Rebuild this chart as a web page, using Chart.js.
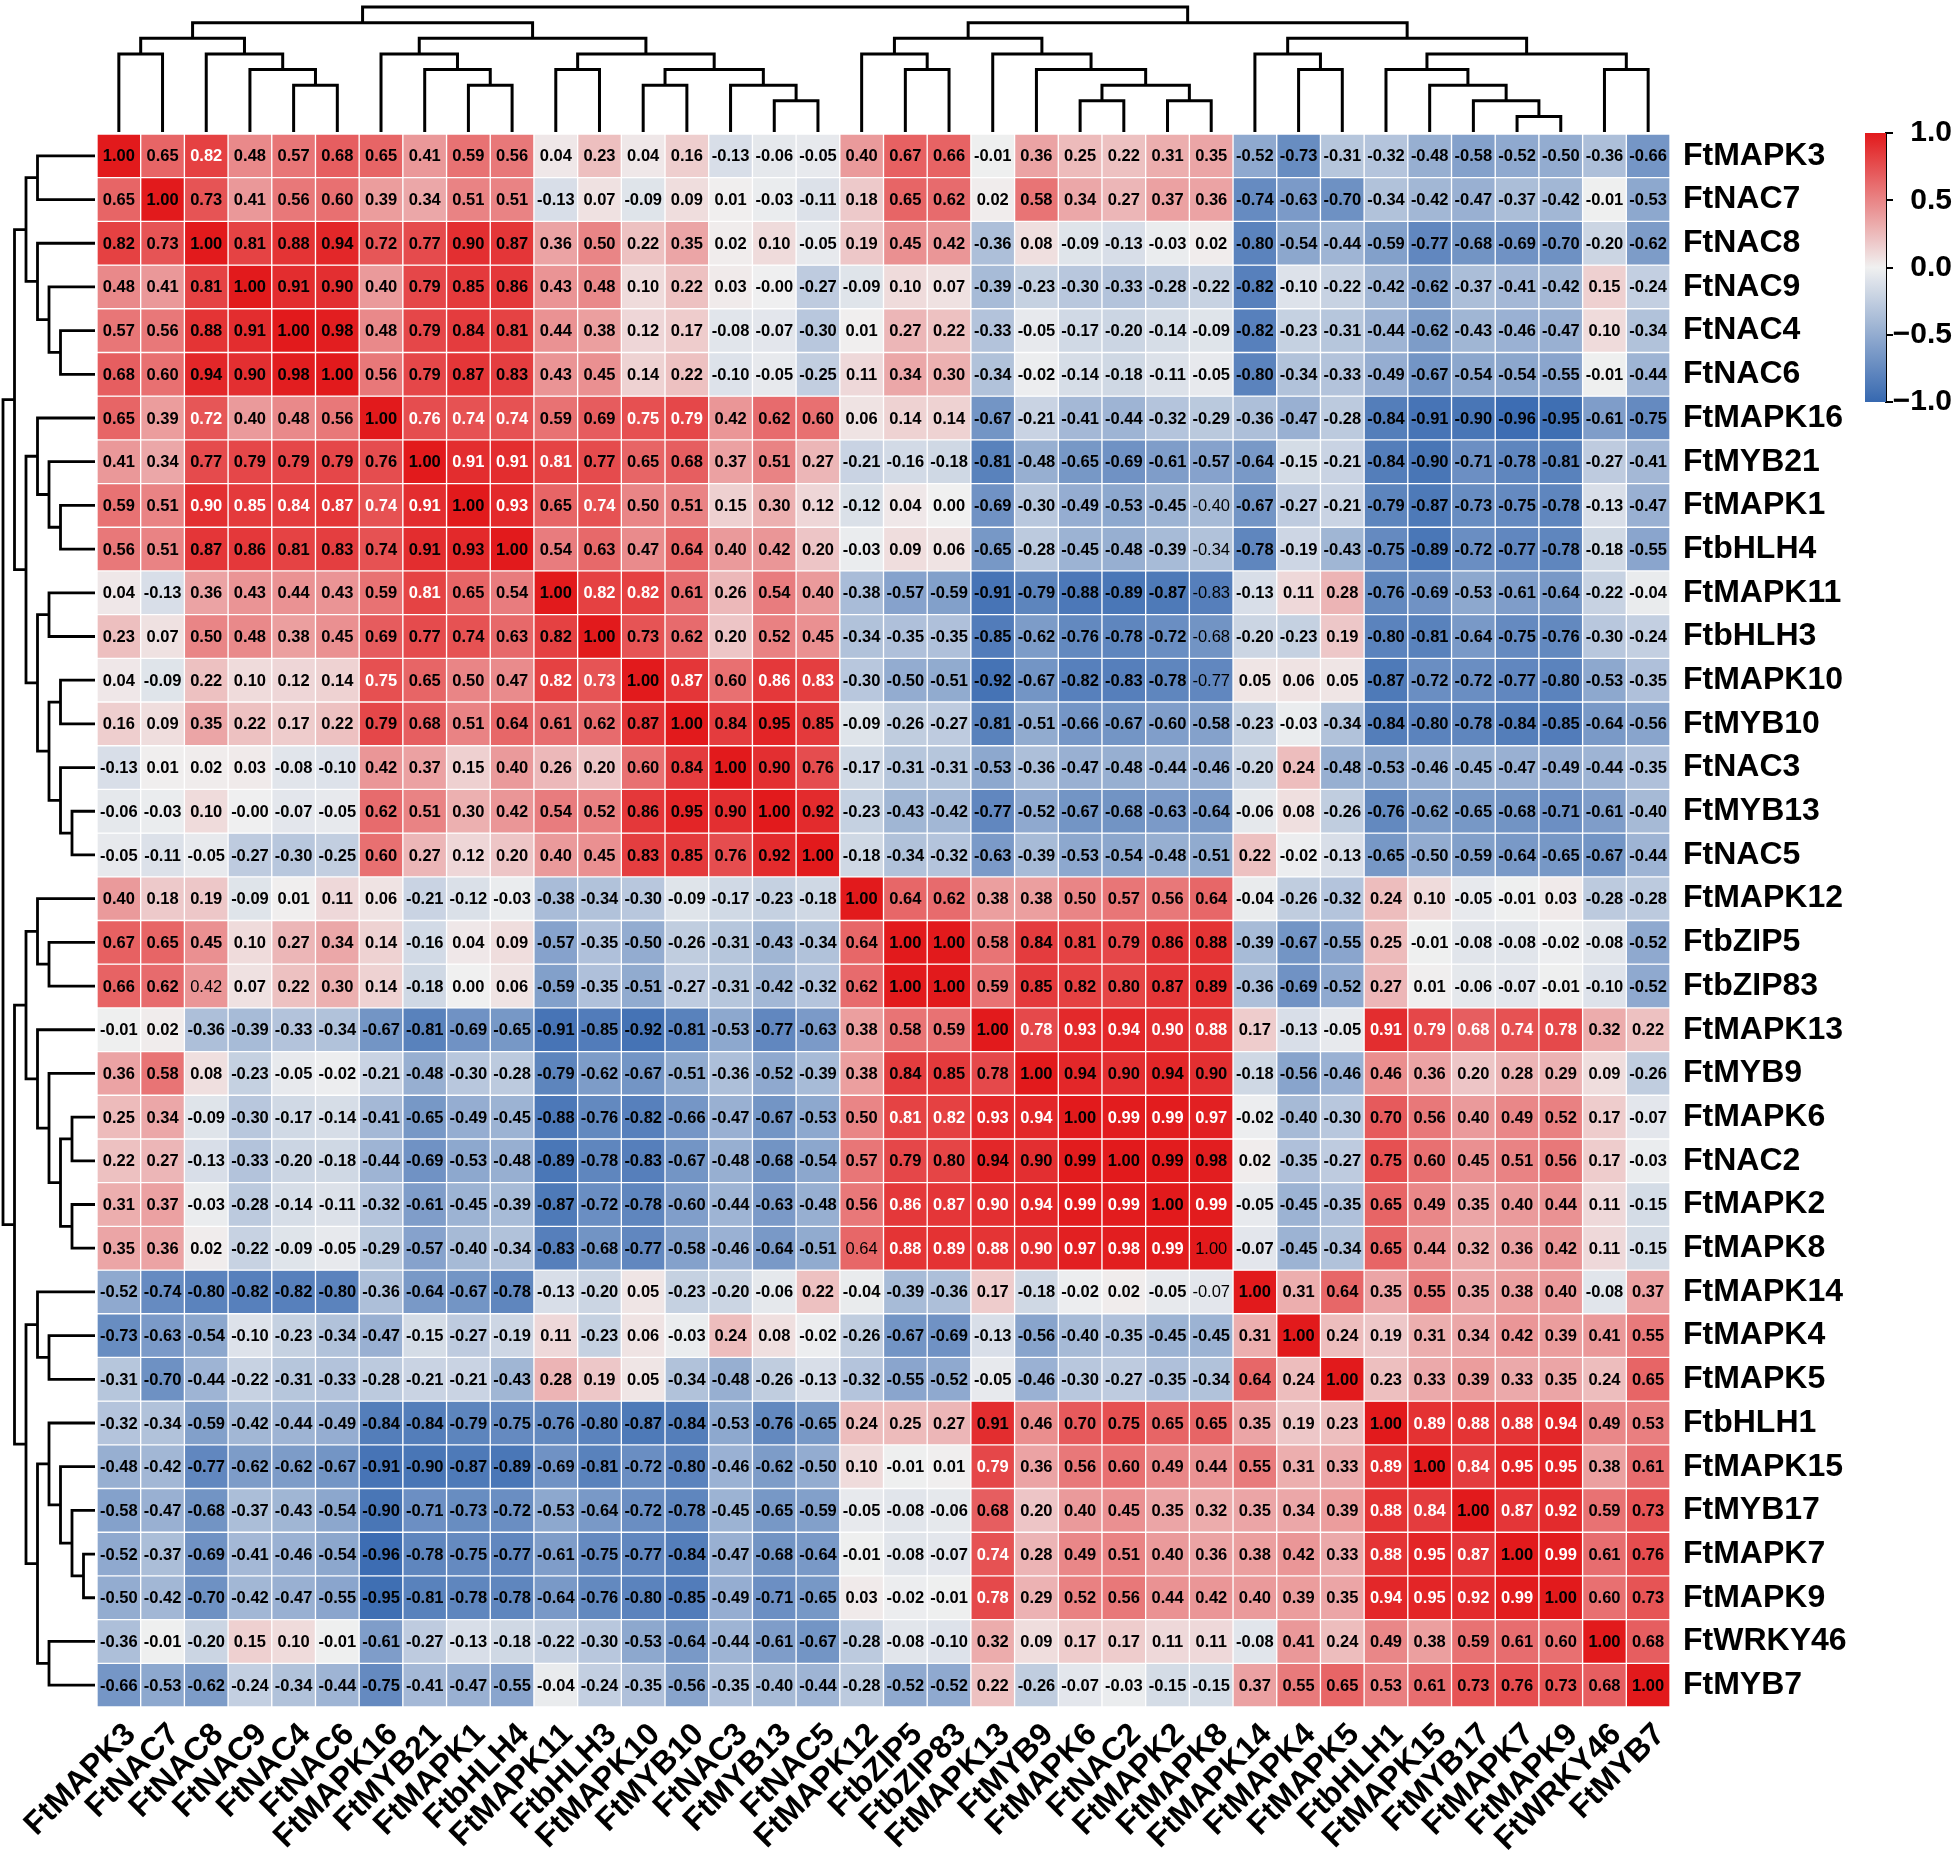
<!DOCTYPE html>
<html><head><meta charset="utf-8">
<script src="https://cdn.jsdelivr.net/npm/chart.js@4.4.1/dist/chart.umd.min.js"></script>
<style>
html,body{margin:0;padding:0;background:#fff;}
#wrap{position:relative;width:1952px;height:1852px;overflow:hidden;background:#fff;}
canvas{position:absolute;display:block;}
</style></head><body>
<div id="wrap">
<canvas id="heat" width="1952" height="1852" style="left:0;top:0;width:1952px;height:1852px"></canvas>
<canvas id="dendTop" width="1573" height="134" style="left:97px;top:0;width:1573px;height:134px"></canvas>
<canvas id="dendLeft" width="97" height="1573" style="left:0;top:134px;width:97px;height:1573px"></canvas>
<canvas id="cbar" width="112" height="340" style="left:1840px;top:100px;width:112px;height:340px"></canvas>
</div>
<script>
// ---------------- data ----------------
const genes = ["FtMAPK3","FtNAC7","FtNAC8","FtNAC9","FtNAC4","FtNAC6","FtMAPK16","FtMYB21","FtMAPK1","FtbHLH4",
  "FtMAPK11","FtbHLH3","FtMAPK10","FtMYB10","FtNAC3","FtMYB13","FtNAC5","FtMAPK12","FtbZIP5","FtbZIP83",
  "FtMAPK13","FtMYB9","FtMAPK6","FtNAC2","FtMAPK2","FtMAPK8","FtMAPK14","FtMAPK4","FtMAPK5","FtbHLH1",
  "FtMAPK15","FtMYB17","FtMAPK7","FtMAPK9","FtWRKY46","FtMYB7"];

const corr = [
 [1.00,0.65,0.82,0.48,0.57,0.68,0.65,0.41,0.59,0.56,0.04,0.23,0.04,0.16,-0.13,-0.06,-0.05,0.40,0.67,0.66,-0.01,0.36,0.25,0.22,0.31,0.35,-0.52,-0.73,-0.31,-0.32,-0.48,-0.58,-0.52,-0.50,-0.36,-0.66],
 [0.65,1.00,0.73,0.41,0.56,0.60,0.39,0.34,0.51,0.51,-0.13,0.07,-0.09,0.09,0.01,-0.03,-0.11,0.18,0.65,0.62,0.02,0.58,0.34,0.27,0.37,0.36,-0.74,-0.63,-0.70,-0.34,-0.42,-0.47,-0.37,-0.42,-0.01,-0.53],
 [0.82,0.73,1.00,0.81,0.88,0.94,0.72,0.77,0.90,0.87,0.36,0.50,0.22,0.35,0.02,0.10,-0.05,0.19,0.45,0.42,-0.36,0.08,-0.09,-0.13,-0.03,0.02,-0.80,-0.54,-0.44,-0.59,-0.77,-0.68,-0.69,-0.70,-0.20,-0.62],
 [0.48,0.41,0.81,1.00,0.91,0.90,0.40,0.79,0.85,0.86,0.43,0.48,0.10,0.22,0.03,-0.004,-0.27,-0.09,0.10,0.07,-0.39,-0.23,-0.30,-0.33,-0.28,-0.22,-0.82,-0.10,-0.22,-0.42,-0.62,-0.37,-0.41,-0.42,0.15,-0.24],
 [0.57,0.56,0.88,0.91,1.00,0.98,0.48,0.79,0.84,0.81,0.44,0.38,0.12,0.17,-0.08,-0.07,-0.30,0.01,0.27,0.22,-0.33,-0.05,-0.17,-0.20,-0.14,-0.09,-0.82,-0.23,-0.31,-0.44,-0.62,-0.43,-0.46,-0.47,0.10,-0.34],
 [0.68,0.60,0.94,0.90,0.98,1.00,0.56,0.79,0.87,0.83,0.43,0.45,0.14,0.22,-0.10,-0.05,-0.25,0.11,0.34,0.30,-0.34,-0.02,-0.14,-0.18,-0.11,-0.05,-0.80,-0.34,-0.33,-0.49,-0.67,-0.54,-0.54,-0.55,-0.01,-0.44],
 [0.65,0.39,0.72,0.40,0.48,0.56,1.00,0.76,0.74,0.74,0.59,0.69,0.75,0.79,0.42,0.62,0.60,0.06,0.14,0.14,-0.67,-0.21,-0.41,-0.44,-0.32,-0.29,-0.36,-0.47,-0.28,-0.84,-0.91,-0.90,-0.96,-0.95,-0.61,-0.75],
 [0.41,0.34,0.77,0.79,0.79,0.79,0.76,1.00,0.91,0.91,0.81,0.77,0.65,0.68,0.37,0.51,0.27,-0.21,-0.16,-0.18,-0.81,-0.48,-0.65,-0.69,-0.61,-0.57,-0.64,-0.15,-0.21,-0.84,-0.90,-0.71,-0.78,-0.81,-0.27,-0.41],
 [0.59,0.51,0.90,0.85,0.84,0.87,0.74,0.91,1.00,0.93,0.65,0.74,0.50,0.51,0.15,0.30,0.12,-0.12,0.04,0.00,-0.69,-0.30,-0.49,-0.53,-0.45,-0.40,-0.67,-0.27,-0.21,-0.79,-0.87,-0.73,-0.75,-0.78,-0.13,-0.47],
 [0.56,0.51,0.87,0.86,0.81,0.83,0.74,0.91,0.93,1.00,0.54,0.63,0.47,0.64,0.40,0.42,0.20,-0.03,0.09,0.06,-0.65,-0.28,-0.45,-0.48,-0.39,-0.34,-0.78,-0.19,-0.43,-0.75,-0.89,-0.72,-0.77,-0.78,-0.18,-0.55],
 [0.04,-0.13,0.36,0.43,0.44,0.43,0.59,0.81,0.65,0.54,1.00,0.82,0.82,0.61,0.26,0.54,0.40,-0.38,-0.57,-0.59,-0.91,-0.79,-0.88,-0.89,-0.87,-0.83,-0.13,0.11,0.28,-0.76,-0.69,-0.53,-0.61,-0.64,-0.22,-0.04],
 [0.23,0.07,0.50,0.48,0.38,0.45,0.69,0.77,0.74,0.63,0.82,1.00,0.73,0.62,0.20,0.52,0.45,-0.34,-0.35,-0.35,-0.85,-0.62,-0.76,-0.78,-0.72,-0.68,-0.20,-0.23,0.19,-0.80,-0.81,-0.64,-0.75,-0.76,-0.30,-0.24],
 [0.04,-0.09,0.22,0.10,0.12,0.14,0.75,0.65,0.50,0.47,0.82,0.73,1.00,0.87,0.60,0.86,0.83,-0.30,-0.50,-0.51,-0.92,-0.67,-0.82,-0.83,-0.78,-0.77,0.05,0.06,0.05,-0.87,-0.72,-0.72,-0.77,-0.80,-0.53,-0.35],
 [0.16,0.09,0.35,0.22,0.17,0.22,0.79,0.68,0.51,0.64,0.61,0.62,0.87,1.00,0.84,0.95,0.85,-0.09,-0.26,-0.27,-0.81,-0.51,-0.66,-0.67,-0.60,-0.58,-0.23,-0.03,-0.34,-0.84,-0.80,-0.78,-0.84,-0.85,-0.64,-0.56],
 [-0.13,0.01,0.02,0.03,-0.08,-0.10,0.42,0.37,0.15,0.40,0.26,0.20,0.60,0.84,1.00,0.90,0.76,-0.17,-0.31,-0.31,-0.53,-0.36,-0.47,-0.48,-0.44,-0.46,-0.20,0.24,-0.48,-0.53,-0.46,-0.45,-0.47,-0.49,-0.44,-0.35],
 [-0.06,-0.03,0.10,-0.004,-0.07,-0.05,0.62,0.51,0.30,0.42,0.54,0.52,0.86,0.95,0.90,1.00,0.92,-0.23,-0.43,-0.42,-0.77,-0.52,-0.67,-0.68,-0.63,-0.64,-0.06,0.08,-0.26,-0.76,-0.62,-0.65,-0.68,-0.71,-0.61,-0.40],
 [-0.05,-0.11,-0.05,-0.27,-0.30,-0.25,0.60,0.27,0.12,0.20,0.40,0.45,0.83,0.85,0.76,0.92,1.00,-0.18,-0.34,-0.32,-0.63,-0.39,-0.53,-0.54,-0.48,-0.51,0.22,-0.02,-0.13,-0.65,-0.50,-0.59,-0.64,-0.65,-0.67,-0.44],
 [0.40,0.18,0.19,-0.09,0.01,0.11,0.06,-0.21,-0.12,-0.03,-0.38,-0.34,-0.30,-0.09,-0.17,-0.23,-0.18,1.00,0.64,0.62,0.38,0.38,0.50,0.57,0.56,0.64,-0.04,-0.26,-0.32,0.24,0.10,-0.05,-0.01,0.03,-0.28,-0.28],
 [0.67,0.65,0.45,0.10,0.27,0.34,0.14,-0.16,0.04,0.09,-0.57,-0.35,-0.50,-0.26,-0.31,-0.43,-0.34,0.64,1.00,1.00,0.58,0.84,0.81,0.79,0.86,0.88,-0.39,-0.67,-0.55,0.25,-0.01,-0.08,-0.08,-0.02,-0.08,-0.52],
 [0.66,0.62,0.42,0.07,0.22,0.30,0.14,-0.18,0.00,0.06,-0.59,-0.35,-0.51,-0.27,-0.31,-0.42,-0.32,0.62,1.00,1.00,0.59,0.85,0.82,0.80,0.87,0.89,-0.36,-0.69,-0.52,0.27,0.01,-0.06,-0.07,-0.01,-0.10,-0.52],
 [-0.01,0.02,-0.36,-0.39,-0.33,-0.34,-0.67,-0.81,-0.69,-0.65,-0.91,-0.85,-0.92,-0.81,-0.53,-0.77,-0.63,0.38,0.58,0.59,1.00,0.78,0.93,0.94,0.90,0.88,0.17,-0.13,-0.05,0.91,0.79,0.68,0.74,0.78,0.32,0.22],
 [0.36,0.58,0.08,-0.23,-0.05,-0.02,-0.21,-0.48,-0.30,-0.28,-0.79,-0.62,-0.67,-0.51,-0.36,-0.52,-0.39,0.38,0.84,0.85,0.78,1.00,0.94,0.90,0.94,0.90,-0.18,-0.56,-0.46,0.46,0.36,0.20,0.28,0.29,0.09,-0.26],
 [0.25,0.34,-0.09,-0.30,-0.17,-0.14,-0.41,-0.65,-0.49,-0.45,-0.88,-0.76,-0.82,-0.66,-0.47,-0.67,-0.53,0.50,0.81,0.82,0.93,0.94,1.00,0.99,0.99,0.97,-0.02,-0.40,-0.30,0.70,0.56,0.40,0.49,0.52,0.17,-0.07],
 [0.22,0.27,-0.13,-0.33,-0.20,-0.18,-0.44,-0.69,-0.53,-0.48,-0.89,-0.78,-0.83,-0.67,-0.48,-0.68,-0.54,0.57,0.79,0.80,0.94,0.90,0.99,1.00,0.99,0.98,0.02,-0.35,-0.27,0.75,0.60,0.45,0.51,0.56,0.17,-0.03],
 [0.31,0.37,-0.03,-0.28,-0.14,-0.11,-0.32,-0.61,-0.45,-0.39,-0.87,-0.72,-0.78,-0.60,-0.44,-0.63,-0.48,0.56,0.86,0.87,0.90,0.94,0.99,0.99,1.00,0.99,-0.05,-0.45,-0.35,0.65,0.49,0.35,0.40,0.44,0.11,-0.15],
 [0.35,0.36,0.02,-0.22,-0.09,-0.05,-0.29,-0.57,-0.40,-0.34,-0.83,-0.68,-0.77,-0.58,-0.46,-0.64,-0.51,0.64,0.88,0.89,0.88,0.90,0.97,0.98,0.99,1.00,-0.07,-0.45,-0.34,0.65,0.44,0.32,0.36,0.42,0.11,-0.15],
 [-0.52,-0.74,-0.80,-0.82,-0.82,-0.80,-0.36,-0.64,-0.67,-0.78,-0.13,-0.20,0.05,-0.23,-0.20,-0.06,0.22,-0.04,-0.39,-0.36,0.17,-0.18,-0.02,0.02,-0.05,-0.07,1.00,0.31,0.64,0.35,0.55,0.35,0.38,0.40,-0.08,0.37],
 [-0.73,-0.63,-0.54,-0.10,-0.23,-0.34,-0.47,-0.15,-0.27,-0.19,0.11,-0.23,0.06,-0.03,0.24,0.08,-0.02,-0.26,-0.67,-0.69,-0.13,-0.56,-0.40,-0.35,-0.45,-0.45,0.31,1.00,0.24,0.19,0.31,0.34,0.42,0.39,0.41,0.55],
 [-0.31,-0.70,-0.44,-0.22,-0.31,-0.33,-0.28,-0.21,-0.21,-0.43,0.28,0.19,0.05,-0.34,-0.48,-0.26,-0.13,-0.32,-0.55,-0.52,-0.05,-0.46,-0.30,-0.27,-0.35,-0.34,0.64,0.24,1.00,0.23,0.33,0.39,0.33,0.35,0.24,0.65],
 [-0.32,-0.34,-0.59,-0.42,-0.44,-0.49,-0.84,-0.84,-0.79,-0.75,-0.76,-0.80,-0.87,-0.84,-0.53,-0.76,-0.65,0.24,0.25,0.27,0.91,0.46,0.70,0.75,0.65,0.65,0.35,0.19,0.23,1.00,0.89,0.88,0.88,0.94,0.49,0.53],
 [-0.48,-0.42,-0.77,-0.62,-0.62,-0.67,-0.91,-0.90,-0.87,-0.89,-0.69,-0.81,-0.72,-0.80,-0.46,-0.62,-0.50,0.10,-0.01,0.01,0.79,0.36,0.56,0.60,0.49,0.44,0.55,0.31,0.33,0.89,1.00,0.84,0.95,0.95,0.38,0.61],
 [-0.58,-0.47,-0.68,-0.37,-0.43,-0.54,-0.90,-0.71,-0.73,-0.72,-0.53,-0.64,-0.72,-0.78,-0.45,-0.65,-0.59,-0.05,-0.08,-0.06,0.68,0.20,0.40,0.45,0.35,0.32,0.35,0.34,0.39,0.88,0.84,1.00,0.87,0.92,0.59,0.73],
 [-0.52,-0.37,-0.69,-0.41,-0.46,-0.54,-0.96,-0.78,-0.75,-0.77,-0.61,-0.75,-0.77,-0.84,-0.47,-0.68,-0.64,-0.01,-0.08,-0.07,0.74,0.28,0.49,0.51,0.40,0.36,0.38,0.42,0.33,0.88,0.95,0.87,1.00,0.99,0.61,0.76],
 [-0.50,-0.42,-0.70,-0.42,-0.47,-0.55,-0.95,-0.81,-0.78,-0.78,-0.64,-0.76,-0.80,-0.85,-0.49,-0.71,-0.65,0.03,-0.02,-0.01,0.78,0.29,0.52,0.56,0.44,0.42,0.40,0.39,0.35,0.94,0.95,0.92,0.99,1.00,0.60,0.73],
 [-0.36,-0.01,-0.20,0.15,0.10,-0.01,-0.61,-0.27,-0.13,-0.18,-0.22,-0.30,-0.53,-0.64,-0.44,-0.61,-0.67,-0.28,-0.08,-0.10,0.32,0.09,0.17,0.17,0.11,0.11,-0.08,0.41,0.24,0.49,0.38,0.59,0.61,0.60,1.00,0.68],
 [-0.66,-0.53,-0.62,-0.24,-0.34,-0.44,-0.75,-0.41,-0.47,-0.55,-0.04,-0.24,-0.35,-0.56,-0.35,-0.40,-0.44,-0.28,-0.52,-0.52,0.22,-0.26,-0.07,-0.03,-0.15,-0.15,0.37,0.55,0.65,0.53,0.61,0.73,0.76,0.73,0.68,1.00]
];

// hierarchical clustering (same tree for rows and columns): leaves 0..35, merge k creates node 36+k
const mergeA      = [15,14,12,38,10,40, 8, 7, 6,44, 4, 3, 2, 0,49,50, 22,24,52,21,20,18,17,58,27,26,32,31,30,29,34,65,61,59,51];
const mergeB      = [16,36,13,37,11,39, 9,42,43,41, 5,46,47, 1,48,45, 23,25,53,54,55,19,57,56,28,60,33,62,63,64,35,66,67,68,69];
const mergeHeight = [ 2, 3, 3, 4, 4, 5, 3, 4, 5, 6, 3, 4, 5, 5, 6, 7,  2, 2, 3, 4, 5, 4, 5, 6, 4, 5, 1, 2, 3, 4, 4, 5, 6, 7, 8];

const colorTicks = [-1, -0.5, 0, 0.5, 1];

// label styling of individual cells (1-based row: [1-based cols])
const whiteTextCells = {1:[3], 7:[3,8,9,10,13,14], 8:[9,10,11], 9:[3,4,5,6,7,8,10,12], 11:[8,12,13],
  13:[7,11,12,14,16,17], 21:[22,23,24,25,26,30,31,32,33,34], 23:[19,20,21,22,24,25,26],
  25:[19,20,21,22,23,24,26], 26:[19,20,21,22,23,24,25], 30:[31,32,33,34], 31:[21,30,32,33,34],
  32:[30,31,33,34], 33:[21,30,31,32,34], 34:[21,30,31,32,33]};
const lightTextCells = {9:[26], 10:[26], 11:[26], 12:[26], 13:[26], 20:[3], 26:[18,26], 27:[26]};

// ---------------- styling ----------------
const FONT = '"Liberation Sans", Arial, Helvetica, sans-serif';
Chart.defaults.font.family = FONT;
Chart.defaults.color = '#000';
const cNeg = [54,104,176], cMid = [240,240,240], cPos = [226,26,28];
function colorFor(v){
  const t = Math.min(1, Math.abs(v));
  const e = v < 0 ? cNeg : cPos;
  const c = cMid.map((m,i) => Math.round(m + (e[i]-m)*t));
  return `rgb(${c[0]},${c[1]},${c[2]})`;
}
function inList(map, r, c){ const l = map[r+1]; return !!(l && l.includes(c+1)); }

const cellText = {
  id: 'cellText',
  afterDatasetsDraw(chart){
    const ctx = chart.ctx;
    ctx.save();
    ctx.textAlign = 'center';
    ctx.textBaseline = 'middle';
    chart.data.datasets.forEach((ds, r) => {
      const meta = chart.getDatasetMeta(r);
      meta.data.forEach((el, c) => {
        const v = corr[r][c];
        const cy = (el.y + el.base) / 2;
        ctx.font = (inList(lightTextCells, r, c) ? 'normal ' : 'bold ') + '16.5px ' + FONT;
        ctx.fillStyle = inList(whiteTextCells, r, c) ? '#ffffff' : '#000000';
        ctx.fillText(v.toFixed(2), el.x, cy + 1);
      });
    });
    ctx.restore();
  }
};

// ---------------- heatmap ----------------
const heatDatasets = corr.map((row, r) => ({
  label: genes[r],
  data: genes.map(() => 1),
  backgroundColor: row.map(colorFor),
  borderColor: '#ffffff',
  borderWidth: 1,
  borderSkipped: false,
  barPercentage: 1,
  categoryPercentage: 1,
  stack: 'rows'
}));

new Chart(document.getElementById('heat'), {
  type: 'bar',
  data: { labels: genes, datasets: heatDatasets },
  options: {
    responsive: false, animation: false, devicePixelRatio: 1,
    layout: { padding: { left: 97, top: 134, right: 0, bottom: 0 } },
    plugins: { legend: { display: false }, tooltip: { enabled: false } },
    scales: {
      x: {
        type: 'category', stacked: true, offset: true,
        grid: { display: false, drawTicks: false }, border: { display: false },
        ticks: { autoSkip: false, minRotation: 45, maxRotation: 45, padding: 9, labelOffset: 12,
                 font: { size: 32, weight: 'bold' }, color: '#000' },
        afterFit(s){ s.height = 145; }
      },
      y: { type: 'linear', stacked: true, min: 0, max: 36, reverse: true, display: false },
      y2: {
        type: 'category', labels: genes, position: 'right', offset: true,
        grid: { display: false, drawTicks: false }, border: { display: false },
        ticks: { autoSkip: false, padding: 13, font: { size: 32, weight: 'bold' }, color: '#000' },
        afterFit(s){ s.width = 282; }
      }
    }
  },
  plugins: [cellText]
});

// ---------------- dendrograms ----------------
function dendroDatasets(orient){
  const pos = genes.map((g,i) => i + 0.5);
  const hgt = genes.map(() => 0);
  const out = [];
  mergeA.forEach((a, k) => {
    const b = mergeB[k], h = mergeHeight[k];
    const pts = [[pos[a], hgt[a]], [pos[a], h], [pos[b], h], [pos[b], hgt[b]]];
    pos.push((pos[a] + pos[b]) / 2);
    hgt.push(h);
    out.push({
      data: pts.map(([p, q]) => orient === 'top' ? { x: p, y: q } : { x: q, y: p }),
      showLine: true, borderColor: '#000', borderWidth: orient === 'top' ? 3 : 2.8,
      pointRadius: 0, fill: false, tension: 0, clip: false,
      borderJoinStyle: 'miter', borderCapStyle: 'butt'
    });
  });
  return out;
}
const dendroBase = { responsive: false, animation: false, devicePixelRatio: 1,
  plugins: { legend: { display: false }, tooltip: { enabled: false } } };

new Chart(document.getElementById('dendTop'), {
  type: 'scatter',
  data: { datasets: dendroDatasets('top') },
  options: Object.assign({}, dendroBase, {
    layout: { padding: { left: 0, right: 0, top: 7, bottom: 2 } },
    scales: {
      x: { type: 'linear', min: 0, max: 36, display: false },
      y: { type: 'linear', min: 0, max: 8, display: false }
    }
  })
});

new Chart(document.getElementById('dendLeft'), {
  type: 'scatter',
  data: { datasets: dendroDatasets('left') },
  options: Object.assign({}, dendroBase, {
    layout: { padding: { left: 3, right: 2, top: 0, bottom: 0 } },
    scales: {
      x: { type: 'linear', min: 0, max: 8, reverse: true, display: false },
      y: { type: 'linear', min: 0, max: 36, reverse: true, display: false }
    }
  })
});

// ---------------- colour bar ----------------
function barGradient(context){
  const chart = context.chart;
  const area = chart.chartArea;
  if (!area) return colorFor(0);
  const g = chart.ctx.createLinearGradient(0, area.bottom, 0, area.top);
  for (let i = 0; i <= 20; i++) {
    const v = -1 + i * 0.1;
    g.addColorStop(i / 20, colorFor(v));
  }
  return g;
}
new Chart(document.getElementById('cbar'), {
  type: 'bar',
  data: { labels: [''], datasets: [{ data: [[colorTicks[0], colorTicks[colorTicks.length-1]]],
    backgroundColor: barGradient, borderWidth: 0, barPercentage: 1, categoryPercentage: 1 }] },
  options: {
    responsive: false, animation: false, devicePixelRatio: 1,
    layout: { padding: { left: 25, top: 33, bottom: 38, right: 0 } },
    plugins: { legend: { display: false }, tooltip: { enabled: false } },
    scales: {
      x: { display: false },
      y: {
        position: 'right', min: -1, max: 1,
        afterBuildTicks(s){ s.ticks = colorTicks.map(v => ({ value: v })); },
        grid: { display: true, drawOnChartArea: false, drawTicks: true, tickLength: 7, color: '#000', lineWidth: 2 },
        border: { display: true, color: '#000', width: 2 },
        ticks: { padding: -9, crossAlign: 'far', font: { size: 30, weight: 'bold' }, color: '#000',
                 callback: v => (v < 0 ? '\u2212' : '') + Math.abs(v).toFixed(1) },
        afterFit(s){ s.width = 66; }
      }
    }
  }
});
</script>
</body></html>
